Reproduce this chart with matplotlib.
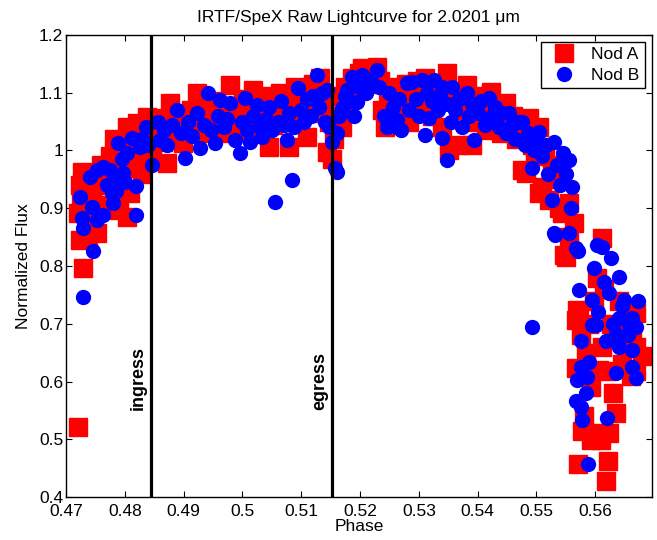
import matplotlib
matplotlib.use("Agg")
import matplotlib.pyplot as plt

plt.rcParams['font.family'] = ['Liberation Sans', 'DejaVu Sans']

# Nod A (red squares): phase, normalized flux
nodA_phase = [
    0.4720, 0.4729, 0.4724, 0.4737, 0.4753, 0.4720, 0.4726, 0.4724, 0.4728, 0.4740,
    0.4745, 0.4752, 0.4760, 0.4763, 0.4770, 0.4775, 0.4780, 0.4782, 0.4787, 0.4790,
    0.4795, 0.4800, 0.4804, 0.4804, 0.4809, 0.4812, 0.4818, 0.4821, 0.4825, 0.4830,
    0.4834, 0.4838, 0.4842, 0.4846,
    0.4852, 0.4860, 0.4865, 0.4871, 0.4877, 0.4882, 0.4888, 0.4894, 0.4899, 0.4905,
    0.4912, 0.4917, 0.4922, 0.4928, 0.4935, 0.4940, 0.4946, 0.4952, 0.4958, 0.4964,
    0.4970, 0.4978, 0.4983, 0.4988, 0.4995, 0.5001, 0.5006, 0.5012, 0.5018, 0.5024,
    0.5030, 0.5036, 0.5042, 0.5046, 0.5052, 0.5058, 0.5064, 0.5070, 0.5076, 0.5080,
    0.5085, 0.5090, 0.5096, 0.5102, 0.5109, 0.5114, 0.5120, 0.5126, 0.5132, 0.5137,
    0.5143, 0.5147, 0.5152, 0.5156,
    0.5160, 0.5165, 0.5170, 0.5175, 0.5180, 0.5186, 0.5192, 0.5198, 0.5204, 0.5210,
    0.5216, 0.5222, 0.5228, 0.5234, 0.5238, 0.5243, 0.5248, 0.5254, 0.5260, 0.5266,
    0.5272, 0.5278, 0.5284, 0.5290, 0.5296, 0.5302, 0.5310, 0.5316, 0.5322, 0.5328,
    0.5334, 0.5340, 0.5347, 0.5352, 0.5358, 0.5364, 0.5370, 0.5376, 0.5381, 0.5386,
    0.5391, 0.5396, 0.5402, 0.5408, 0.5414, 0.5420, 0.5423, 0.5428, 0.5434, 0.5440,
    0.5449, 0.5454, 0.5460, 0.5466, 0.5472, 0.5476, 0.5483, 0.5488, 0.5492, 0.5498,
    0.5505, 0.5505, 0.5510, 0.5515, 0.5522, 0.5526, 0.5532, 0.5538, 0.5544, 0.5547,
    0.5551, 0.5556, 0.5556, 0.5564, 0.5568, 0.5569, 0.5568, 0.5571, 0.5573, 0.5576,
    0.5578, 0.5581, 0.5585, 0.5590, 0.5593, 0.5593, 0.5597, 0.5601, 0.5603, 0.5606,
    0.5610, 0.5612, 0.5612, 0.5615, 0.5618, 0.5619, 0.5622, 0.5624, 0.5627, 0.5630,
    0.5635, 0.5638, 0.5641, 0.5645, 0.5650, 0.5655, 0.5657, 0.5660, 0.5663, 0.5669,
    0.5669, 0.5669, 0.5680,
]
nodA_flux = [
    0.522, 0.796, 0.845, 0.850, 0.857, 0.891, 0.915, 0.940, 0.962, 0.885,
    0.925, 0.950, 0.975, 0.905, 0.940, 0.990, 0.902, 1.020, 0.960, 0.897,
    1.000, 0.970, 0.885, 1.040, 0.926, 1.010, 0.985, 1.047, 1.025, 0.960,
    1.000, 1.058, 1.030, 0.985,
    1.040, 1.056, 1.015, 0.978, 1.082, 1.040, 1.060, 1.020, 1.013, 1.050,
    1.070, 1.035, 1.099, 1.055, 1.075, 1.030, 1.060, 1.085, 1.045, 1.065,
    1.030, 1.113, 1.070, 1.045, 1.060, 1.090, 1.035, 1.070, 1.105, 1.050,
    1.080, 1.060, 1.095, 1.006, 1.045, 1.075, 1.100, 1.060, 1.085, 1.006,
    1.050, 1.110, 1.080, 1.095, 1.023, 1.065, 1.115, 1.090, 1.125, 1.075,
    0.997, 1.050, 0.985, 1.020,
    1.060, 1.095, 1.040, 1.110, 1.080, 1.125, 1.100, 1.135, 1.143, 1.115,
    1.140, 1.125, 1.145, 1.120, 1.070, 1.040, 1.090, 1.110, 1.060, 1.100,
    1.080, 1.115, 1.050, 1.095, 1.120, 1.075, 1.125, 1.095, 1.060, 1.110,
    1.085, 1.040, 1.134, 1.000, 1.090, 1.009, 1.070, 1.100, 1.113, 1.050,
    1.009, 1.080, 1.060, 1.095, 1.035, 1.070, 1.101, 1.050, 1.080, 1.030,
    1.082, 1.045, 1.060, 1.020, 1.040, 0.966, 0.961, 1.056, 1.010, 0.990,
    1.041, 0.926, 0.937, 1.000, 0.914, 0.975, 0.950, 0.900, 0.892, 0.819,
    0.815, 0.850, 0.909, 0.874, 0.706, 0.723, 0.623, 0.458, 0.720, 0.680,
    0.515, 0.541, 0.650, 0.700, 0.590, 0.498, 0.740, 0.510, 0.780, 0.620,
    0.498, 0.659, 0.848, 0.760, 0.619, 0.427, 0.462, 0.510, 0.700, 0.580,
    0.545, 0.680, 0.740, 0.630, 0.700, 0.660, 0.718, 0.610, 0.690, 0.718,
    0.659, 0.619, 0.644,
]

# Nod B (blue circles)
nodB_phase = [
    0.4729, 0.4746, 0.4724, 0.4727, 0.4729, 0.4744, 0.4753, 0.4763, 0.4741, 0.4753,
    0.4763, 0.4775, 0.4778, 0.4780, 0.4787, 0.4797, 0.4819, 0.4819, 0.4788, 0.4812,
    0.4804, 0.4826, 0.4836, 0.4846, 0.4770, 0.4785, 0.4795, 0.4800, 0.4830, 0.4840,
    0.4856, 0.4860, 0.4866, 0.4872, 0.4880, 0.4888, 0.4895, 0.4902, 0.4908, 0.4915,
    0.4922, 0.4928, 0.4934, 0.4941, 0.4946, 0.4953, 0.4958, 0.4962, 0.4968, 0.4973,
    0.4978, 0.4987, 0.4995, 0.5000, 0.5004, 0.5008, 0.5012, 0.5018, 0.5024, 0.5030,
    0.5034, 0.5040, 0.5046, 0.5050, 0.5055, 0.5060, 0.5066, 0.5070, 0.5075, 0.5080,
    0.5085, 0.5088, 0.5094, 0.5100, 0.5105, 0.5110, 0.5116, 0.5120, 0.5126, 0.5130,
    0.5135, 0.5140, 0.5143, 0.5148, 0.5152, 0.5157, 0.5160, 0.5160,
    0.5165, 0.5169, 0.5174, 0.5177, 0.5182, 0.5187, 0.5190, 0.5194, 0.5198, 0.5204,
    0.5210, 0.5216, 0.5222, 0.5228, 0.5232, 0.5240, 0.5245, 0.5250, 0.5256, 0.5262,
    0.5262, 0.5266, 0.5270, 0.5279, 0.5284, 0.5289, 0.5295, 0.5300, 0.5306, 0.5310,
    0.5314, 0.5318, 0.5322, 0.5326, 0.5332, 0.5336, 0.5340, 0.5340, 0.5347, 0.5350,
    0.5355, 0.5357, 0.5362, 0.5368, 0.5374, 0.5381, 0.5385, 0.5390, 0.5394, 0.5400,
    0.5406, 0.5412, 0.5420, 0.5425, 0.5430, 0.5436, 0.5442, 0.5448, 0.5454, 0.5458,
    0.5464, 0.5470, 0.5476, 0.5480, 0.5486, 0.5493, 0.5495,
    0.5493, 0.5500, 0.5505, 0.5510, 0.5516, 0.5520, 0.5527, 0.5530, 0.5530, 0.5532,
    0.5535, 0.5540, 0.5545, 0.5550, 0.5556, 0.5556, 0.5561, 0.5558, 0.5568, 0.5571,
    0.5573, 0.5576, 0.5576, 0.5569, 0.5568, 0.5576, 0.5578, 0.5585, 0.5586, 0.5588,
    0.5590, 0.5595, 0.5595, 0.5597, 0.5601, 0.5603, 0.5605, 0.5612, 0.5615, 0.5618,
    0.5620, 0.5624, 0.5627, 0.5630, 0.5635, 0.5635, 0.5641, 0.5641, 0.5641, 0.5645,
    0.5649, 0.5655, 0.5657, 0.5663, 0.5663, 0.5663, 0.5669, 0.5669, 0.5672,
]
nodB_flux = [
    0.746, 0.826, 0.919, 0.883, 0.866, 0.902, 0.879, 0.888, 0.954, 0.966,
    0.971, 0.966, 0.926, 0.909, 0.949, 0.961, 0.938, 0.888, 1.013, 1.021,
    0.995, 1.006, 1.041, 0.975, 0.940, 0.930, 0.985, 0.945, 1.020, 1.010,
    1.049, 1.018, 1.035, 1.010, 1.045, 1.070, 1.030, 0.987, 1.050, 1.025,
    1.065, 1.004, 1.045, 1.099, 1.035, 1.013, 1.060, 1.087, 1.040, 1.055,
    1.082, 1.018, 0.995, 1.050, 1.091, 1.035, 1.015, 1.060, 1.079, 1.040,
    1.023, 1.055, 1.075, 1.035, 0.910, 1.050, 1.085, 1.045, 1.018, 1.065,
    0.949, 1.040, 1.108, 1.070, 1.050, 1.090, 1.060, 1.095, 1.131, 1.075,
    1.100, 1.050, 1.105, 1.040, 1.015, 0.969, 0.963, 1.030,
    1.060, 1.073, 1.095, 1.105, 1.085, 1.127, 1.060, 1.084, 1.110, 1.131,
    1.100, 1.122, 1.115, 1.139, 1.110, 1.060, 1.040, 1.099, 1.075, 1.041,
    1.053, 1.090, 1.035, 1.117, 1.070, 1.119, 1.090, 1.060, 1.122, 1.027,
    1.100, 1.056, 1.085, 1.122, 1.070, 1.095, 1.021, 1.110, 0.983, 1.080,
    1.050, 1.110, 1.070, 1.090, 1.040, 1.099, 1.060, 1.080, 1.018, 1.065,
    1.085, 1.045, 1.091, 1.060, 1.075, 1.040, 1.065, 1.030, 1.065, 1.045,
    1.020, 1.050, 1.049, 1.010, 1.030, 0.970, 1.000,
    0.694, 1.020, 1.032, 0.990, 1.010, 0.960, 0.914, 1.015, 0.857, 0.853,
    0.975, 0.940, 0.995, 0.960, 0.983, 0.857, 0.937, 0.900, 0.831, 0.826,
    0.758, 0.671, 0.625, 0.602, 0.567, 0.555, 0.534, 0.580, 0.607, 0.458,
    0.633, 0.741, 0.697, 0.796, 0.697, 0.836, 0.720, 0.833, 0.772, 0.671,
    0.536, 0.753, 0.813, 0.700, 0.683, 0.614, 0.781, 0.710, 0.659, 0.730,
    0.741, 0.680, 0.697, 0.710, 0.654, 0.625, 0.694, 0.606, 0.740,
]

ingress = 0.4844
egress = 0.5153
xticks = [0.47, 0.48, 0.49, 0.5, 0.51, 0.52, 0.53, 0.54, 0.55, 0.56]
yticks = [0.4, 0.5, 0.6, 0.7, 0.8, 0.9, 1.0, 1.1, 1.2]

fig = plt.figure(figsize=(6.57, 5.4), dpi=100)
ax = fig.add_axes([0.1005, 0.0796, 0.8915, 0.8556])

ax.plot(nodA_phase, nodA_flux, 's', color='#ff0000', mec='#ff0000', ms=12.5, label='Nod A')
ax.plot(nodB_phase, nodB_flux, 'o', color='#0000ff', mec='#0000ff', ms=10, label='Nod B')

ax.axvline(ingress, color='black', lw=2.3)
ax.axvline(egress, color='black', lw=2.3)
ax.text(ingress - 0.0007, 0.55, 'ingress', rotation=90, ha='right', va='bottom',
        fontsize=13, fontweight='bold')
ax.text(egress - 0.0007, 0.55, 'egress', rotation=90, ha='right', va='bottom',
        fontsize=13, fontweight='bold')

ax.set_xlim(0.47, 0.5696)
ax.set_ylim(0.4, 1.2)
ax.set_xticks(xticks)
ax.set_xticklabels(['0.47', '0.48', '0.49', '0.5', '0.51', '0.52', '0.53', '0.54', '0.55', '0.56'])
ax.set_yticks(yticks)
ax.set_yticklabels(['0.4', '0.5', '0.6', '0.7', '0.8', '0.9', '1', '1.1', '1.2'])
ax.tick_params(direction='in', top=True, right=True, length=4, width=0.8,
               labelsize=12.5, pad=2)
ax.tick_params(axis='x', pad=5)
for s in ax.spines.values():
    s.set_linewidth(1.0)

ax.set_xlabel('Phase', fontsize=12.5, labelpad=0)
ax.set_ylabel('Normalized Flux', fontsize=12.5, labelpad=6)
ax.set_title('IRTF/SpeX Raw Lightcurve for 2.0201 \u03bcm', fontsize=12.5, pad=9)

leg = ax.legend(loc='upper right', fontsize=12.5, fancybox=False, framealpha=1,
                edgecolor='black', borderaxespad=0.4, handletextpad=0.6,
                labelspacing=0.3, borderpad=0.3)
leg.get_frame().set_linewidth(1.0)

fig.savefig('out.png', dpi=100)
